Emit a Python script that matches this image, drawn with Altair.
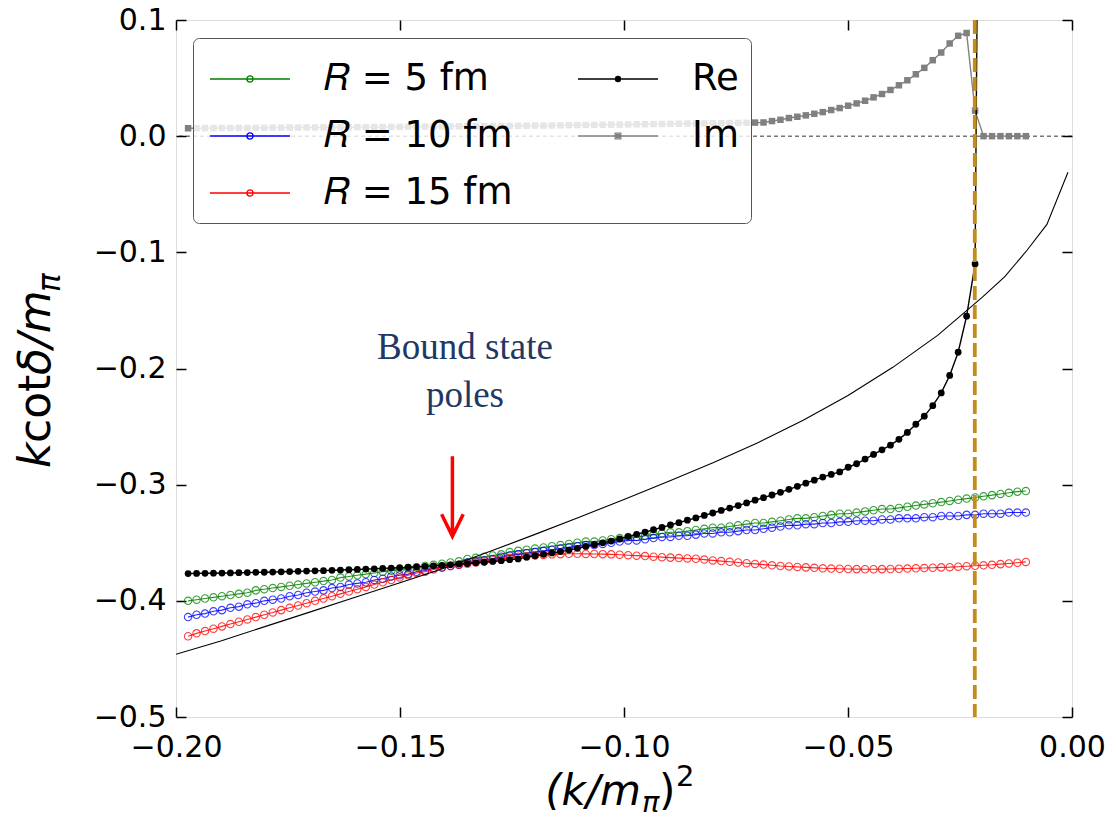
import altair as alt
import numpy as np
import pandas as pd

# ---------------- data ----------------
X_START, X_END, N_PTS = -0.1973, -0.0103, 100   # common sampling grid of (k/m_pi)^2

R5 = [-0.400, -0.399, -0.398, -0.397, -0.396, -0.395, -0.394, -0.393, -0.391, -0.390,
      -0.389, -0.388, -0.387, -0.386, -0.385, -0.384, -0.383, -0.382, -0.380, -0.379,
      -0.378, -0.377, -0.376, -0.375, -0.374, -0.373, -0.372, -0.371, -0.370, -0.369,
      -0.368, -0.367, -0.366, -0.364, -0.363, -0.362, -0.361, -0.360, -0.358, -0.357,
      -0.356, -0.355, -0.354, -0.353, -0.352, -0.351, -0.350, -0.349, -0.349, -0.348,
      -0.347, -0.346, -0.345, -0.345, -0.344, -0.343, -0.342, -0.341, -0.341, -0.340,
      -0.339, -0.338, -0.337, -0.337, -0.336, -0.335, -0.334, -0.333, -0.333, -0.332,
      -0.331, -0.330, -0.329, -0.329, -0.328, -0.327, -0.326, -0.325, -0.325, -0.324,
      -0.323, -0.322, -0.321, -0.321, -0.320, -0.319, -0.318, -0.317, -0.316, -0.315,
      -0.314, -0.313, -0.312, -0.311, -0.310, -0.309, -0.308, -0.307, -0.306, -0.3055]

R10 = [-0.414, -0.412, -0.411, -0.409, -0.408, -0.406, -0.405, -0.403, -0.402, -0.400,
       -0.399, -0.398, -0.396, -0.395, -0.393, -0.392, -0.391, -0.389, -0.388, -0.386,
       -0.385, -0.384, -0.382, -0.381, -0.379, -0.378, -0.377, -0.375, -0.374, -0.372,
       -0.371, -0.370, -0.369, -0.367, -0.366, -0.365, -0.364, -0.362, -0.361, -0.360,
       -0.359, -0.358, -0.357, -0.356, -0.355, -0.354, -0.353, -0.352, -0.352, -0.351,
       -0.350, -0.349, -0.348, -0.348, -0.347, -0.346, -0.345, -0.345, -0.344, -0.344,
       -0.343, -0.342, -0.342, -0.341, -0.341, -0.340, -0.339, -0.339, -0.338, -0.337,
       -0.336, -0.335, -0.335, -0.334, -0.334, -0.333, -0.333, -0.332, -0.332, -0.331,
       -0.331, -0.331, -0.330, -0.330, -0.329, -0.329, -0.329, -0.328, -0.328, -0.327,
       -0.327, -0.327, -0.326, -0.326, -0.325, -0.325, -0.325, -0.324, -0.324, -0.324]

R15 = [-0.4305, -0.428, -0.426, -0.424, -0.422, -0.420, -0.418, -0.416, -0.414, -0.412,
       -0.410, -0.408, -0.406, -0.404, -0.402, -0.400, -0.398, -0.396, -0.394, -0.392,
       -0.390, -0.388, -0.386, -0.384, -0.382, -0.380, -0.378, -0.376, -0.375, -0.373,
       -0.3715, -0.370, -0.369, -0.368, -0.367, -0.366, -0.365, -0.364, -0.363, -0.362,
       -0.3617, -0.361, -0.3605, -0.360, -0.3598, -0.3595, -0.3595, -0.3596, -0.3597, -0.3598,
       -0.3600, -0.3603, -0.3607, -0.3611, -0.3615, -0.362, -0.3624, -0.3628, -0.3632, -0.3635,
       -0.3638, -0.3645, -0.3652, -0.3658, -0.3664, -0.367, -0.3676, -0.3682, -0.3688, -0.3694,
       -0.370, -0.3704, -0.3708, -0.3712, -0.3716, -0.372, -0.3722, -0.3724, -0.3726, -0.3727,
       -0.3728, -0.3728, -0.3727, -0.3726, -0.3724, -0.3722, -0.372, -0.3718, -0.3715, -0.3712,
       -0.371, -0.3706, -0.3702, -0.3698, -0.3694, -0.369, -0.3684, -0.3678, -0.3672, -0.3665]

RE = [-0.3765, -0.3764, -0.3763, -0.3762, -0.3761, -0.3760, -0.3758, -0.3757, -0.3755, -0.3754,
      -0.3752, -0.3750, -0.3748, -0.3746, -0.3744, -0.3742, -0.3740, -0.3737, -0.3735, -0.3732,
      -0.3730, -0.3727, -0.3724, -0.3721, -0.3718, -0.3715, -0.3711, -0.3707, -0.3703, -0.3699,
      -0.3695, -0.3690, -0.3684, -0.3679, -0.3673, -0.3668, -0.3661, -0.3654, -0.3646, -0.3639,
      -0.3624, -0.3612, -0.3600, -0.3588, -0.3576, -0.3563, -0.3548, -0.3532, -0.3517, -0.3501,
      -0.3486, -0.3467, -0.3447, -0.3427, -0.3408, -0.3388, -0.3368, -0.3347, -0.3327, -0.3306,
      -0.3286, -0.3265, -0.3244, -0.3222, -0.3201, -0.3180, -0.3157, -0.3134, -0.3112, -0.3089,
      -0.3066, -0.3040, -0.3014, -0.2987, -0.2961, -0.2935, -0.2912, -0.289, -0.285, -0.282,
      -0.278, -0.274, -0.270, -0.266, -0.261, -0.255, -0.248, -0.241, -0.232, -0.221,
      -0.206, -0.186, -0.155, -0.110, 0.83]

IM = [0.0068, 0.0068, 0.0069, 0.0069, 0.0070, 0.0070, 0.0071, 0.0071, 0.0072, 0.0072,
      0.0073, 0.0073, 0.0074, 0.0074, 0.0075, 0.0075, 0.0076, 0.0076, 0.0077, 0.0077,
      0.0078, 0.0078, 0.0079, 0.0079, 0.0080, 0.0080, 0.0081, 0.0081, 0.0082, 0.0083,
      0.0083, 0.0084, 0.0084, 0.0085, 0.0086, 0.0086, 0.0087, 0.0088, 0.0088, 0.0089,
      0.0090, 0.0091, 0.0091, 0.0092, 0.0093, 0.0094, 0.0095, 0.0096, 0.0097, 0.0098,
      0.0099, 0.0100, 0.0101, 0.0102, 0.0103, 0.0104, 0.0105, 0.0106, 0.0107, 0.0108,
      0.0109, 0.0110, 0.0111, 0.0112, 0.0113, 0.0114, 0.0115, 0.0117,
      0.0118, 0.0130, 0.0141, 0.0156, 0.0167, 0.0179, 0.0193, 0.0207, 0.0225, 0.0242,
      0.0262, 0.0282, 0.0305, 0.0334, 0.0363, 0.0398, 0.0438, 0.0481, 0.0533, 0.0588,
      0.0654, 0.0720, 0.0798, 0.0864, 0.0888,
      0.022,
      0.0, 0.0, 0.0, 0.0, 0.0, 0.0]

CURVE_X = [-0.20, -0.19, -0.18, -0.17, -0.16, -0.15, -0.14, -0.13, -0.12, -0.11, -0.10,
           -0.09, -0.08, -0.07, -0.06, -0.05, -0.04, -0.03, -0.02, -0.015, -0.01, -0.0056, -0.0009]
CURVE_Y = [-0.446, -0.4345, -0.422, -0.4095, -0.397, -0.3845, -0.3717, -0.3575, -0.343, -0.328, -0.3128,
           -0.297, -0.281, -0.2636, -0.2445, -0.2233, -0.199, -0.1715, -0.1385, -0.121, -0.098, -0.076, -0.031]

POLE_X = -0.0217
ARROW_X = -0.1383
ARROW_Y = -0.310
NOTE_X = -0.1355
NOTE_LINES = ["Bound state", "poles"]
NOTE_Y = [-0.1824, -0.2239]

X_TICKS = [-0.20, -0.15, -0.10, -0.05, 0.00]
Y_TICKS = [0.1, 0.0, -0.1, -0.2, -0.3, -0.4, -0.5]

# legend entries, listed column by column (R series first column, Re/Im second)
LEG_NAMES = ["\U0001D445 = 5 fm", "\U0001D445 = 10 fm", "\U0001D445 = 15 fm", "Re", "Im"]
LEG_COLORS = ["#008000", "#0000ff", "#ff0000", "#000000", "#808080"]

# ---------------- helpers ----------------
W, H = 896, 697
xgrid = np.linspace(X_START, X_END, N_PTS)


def frame(vals):
    return pd.DataFrame({"x": xgrid[: len(vals)], "y": vals})


XS = alt.Scale(domain=[-0.2, 0.0], nice=False, zero=False)
YS = alt.Scale(domain=[-0.5, 0.1], nice=False, zero=False)


def enc(chart, xaxis=None, yaxis=None):
    return chart.encode(
        x=alt.X("x:Q", scale=XS, axis=xaxis),
        y=alt.Y("y:Q", scale=YS, axis=yaxis),
    )


FONT = "DejaVu Sans"
TICK_FS = 30

axis_main_x = alt.Axis(values=X_TICKS, format=".2f", ticks=False, domain=False, grid=False,
                       labelFontSize=TICK_FS, labelFont=FONT, labelColor="black", labelPadding=15,
                       labelFlush=False, labelOverlap=False, title=None)
axis_main_y = alt.Axis(values=Y_TICKS, format=".1f", ticks=False, domain=False, grid=False,
                       labelFontSize=TICK_FS, labelFont=FONT, labelColor="black", labelPadding=10,
                       labelFlush=False, labelOverlap=False, title=None)


def tick_axis(orient, vals):
    return alt.Axis(orient=orient, values=vals, labels=False, domain=False, grid=False,
                    ticks=True, tickSize=10, tickWidth=1.5, tickColor="black", offset=-10, title=None)


layers = []

# zero line
layers.append(
    alt.Chart(pd.DataFrame({"y": [0.0]})).mark_rule(color="black", strokeWidth=0.8, strokeDash=[4, 3])
    .encode(y=alt.Y("y:Q", scale=YS, axis=None))
)

# R series
for vals, col in [(R5, "#008000"), (R10, "#0000ff"), (R15, "#ff0000")]:
    d = frame(vals)
    layers.append(enc(alt.Chart(d).mark_line(color=col, strokeWidth=1.1, opacity=0.85, clip=True)))
    layers.append(enc(alt.Chart(d).mark_point(shape="circle", filled=False, size=55, strokeWidth=1.1,
                                               color=col, opacity=0.75, clip=True)))

# Im
d_im = frame(IM)
layers.append(enc(alt.Chart(d_im).mark_line(color="#808080", strokeWidth=1.4, clip=True)))
layers.append(enc(alt.Chart(d_im).mark_square(color="#808080", size=42, opacity=1, clip=True)))

# smooth curve
layers.append(enc(alt.Chart(pd.DataFrame({"x": CURVE_X, "y": CURVE_Y}))
                  .mark_line(color="black", strokeWidth=1.1, clip=True)))

# Re
d_re = frame(RE)
layers.append(enc(alt.Chart(d_re).mark_line(color="black", strokeWidth=1.4, clip=True)))
layers.append(enc(alt.Chart(d_re).mark_circle(color="black", size=46, opacity=1, clip=True)))

# pole line
layers.append(
    alt.Chart(pd.DataFrame({"x": [POLE_X]})).mark_rule(color="#c48c1a", strokeWidth=3.8, strokeDash=[14, 5])
    .encode(x=alt.X("x:Q", scale=XS, axis=None))
)

# arrow
ARROW_PATH = "M0,-1V1M-0.27,0.45L0,1L0.27,0.45"
layers.append(
    enc(alt.Chart(pd.DataFrame({"x": [ARROW_X], "y": [ARROW_Y]}))
        .mark_point(shape=ARROW_PATH, size=6400, filled=False, color="#ff0000", strokeWidth=3.5,
                    opacity=1))
)

# annotation text
layers.append(
    enc(alt.Chart(pd.DataFrame({"x": [NOTE_X, NOTE_X], "y": NOTE_Y, "t": NOTE_LINES}))
        .mark_text(font="Liberation Serif", fontSize=37, color="#1f3864", align="center", baseline="middle"))
    .encode(text="t:N")
)

# axes layers (labels / inward ticks)
ax_df = pd.DataFrame({"x": [-0.1], "y": [-0.2]})
layers.append(enc(alt.Chart(ax_df).mark_point(opacity=0), axis_main_x, axis_main_y))
layers.append(enc(alt.Chart(ax_df).mark_point(opacity=0), tick_axis("bottom", X_TICKS), tick_axis("left", Y_TICKS)))
layers.append(enc(alt.Chart(ax_df).mark_point(opacity=0), tick_axis("top", X_TICKS), tick_axis("right", Y_TICKS)))


# axis titles as text (with subscripts)
def txt(s, x, y, fs, style="normal", angle=0, align="left", baseline="alphabetic"):
    return alt.Chart(pd.DataFrame({"t": [s]})).mark_text(
        font=FONT, fontSize=fs, fontStyle=style, angle=angle, align=align, baseline=baseline,
        color="black").encode(text="t:N", x=alt.value(x), y=alt.value(y))


# y title (rotated)
layers.append(txt("k", -126, 448, 44, "italic", 270))
layers.append(txt("cot", -126, 423, 44, "normal", 270))
layers.append(txt("\u03b4/m", -126, 355, 44, "italic", 270))
layers.append(txt("\u03c0", -116, 272, 31, "italic", 270))
# x title
layers.append(txt("(k/m", 465, 785, 42, "italic", 0, "right"))
layers.append(txt("\u03c0", 466, 792, 29, "italic", 0, "left"))
layers.append(txt(")", 483, 785, 42, "normal", 0, "left"))
layers.append(txt("2", 500, 766, 29, "normal", 0, "left"))

# legend (drawn by the library from a shared color/shape scale)
c = 0.571


def circ(cx, r):
    return f"M{cx + r},0A{r},{r},0,1,1,{cx - r},0A{r},{r},0,1,1,{cx + r},0"


line_seg = f"M{c - 1.43},0H{c + 1.43}"
open_c = line_seg + circ(c, 0.11)
dot = line_seg + circ(c, 0.09) + circ(c, 0.05) + circ(c, 0.015)
sq = line_seg + f"M{c - 0.1},-0.1H{c + 0.1}V0.1H{c - 0.1}ZM{c - 0.05},-0.05H{c + 0.05}V0.05H{c - 0.05}Z"
LEG_SHAPES = [open_c, open_c, open_c, dot, sq]

legend = alt.Legend(title=None, orient="none", legendX=17, legendY=18, columns=2, direction="vertical",
                    symbolSize=3136, symbolStrokeWidth=1.3, labelFontSize=37, labelFont=FONT,
                    labelColor="black", labelOffset=61, columnPadding=60, rowPadding=10, padding=12,
                    fillColor="rgba(255,255,255,0.8)", strokeColor="#555555", cornerRadius=6,
                    labelLimit=400)
layers.append(
    alt.Chart(pd.DataFrame({"s": LEG_NAMES})).transform_filter("false")
    .mark_point(filled=False, opacity=1, strokeWidth=1.3)
    .encode(
        color=alt.Color("s:N", scale=alt.Scale(domain=LEG_NAMES, range=LEG_COLORS), legend=legend),
        shape=alt.Shape("s:N", scale=alt.Scale(domain=LEG_NAMES, range=LEG_SHAPES), legend=legend),
    )
)

chart = (
    alt.layer(*layers)
    .resolve_axis(x="independent", y="independent")
    .properties(width=W, height=H, autosize=alt.AutoSizeParams(type="none"),
                padding={"left": 176, "top": 20, "right": 44, "bottom": 106})
    .configure_view(stroke="black", strokeWidth=1.8)
    .configure(background="white")
)

chart.save("out.html", embed_options={"renderer": "svg", "actions": False})
